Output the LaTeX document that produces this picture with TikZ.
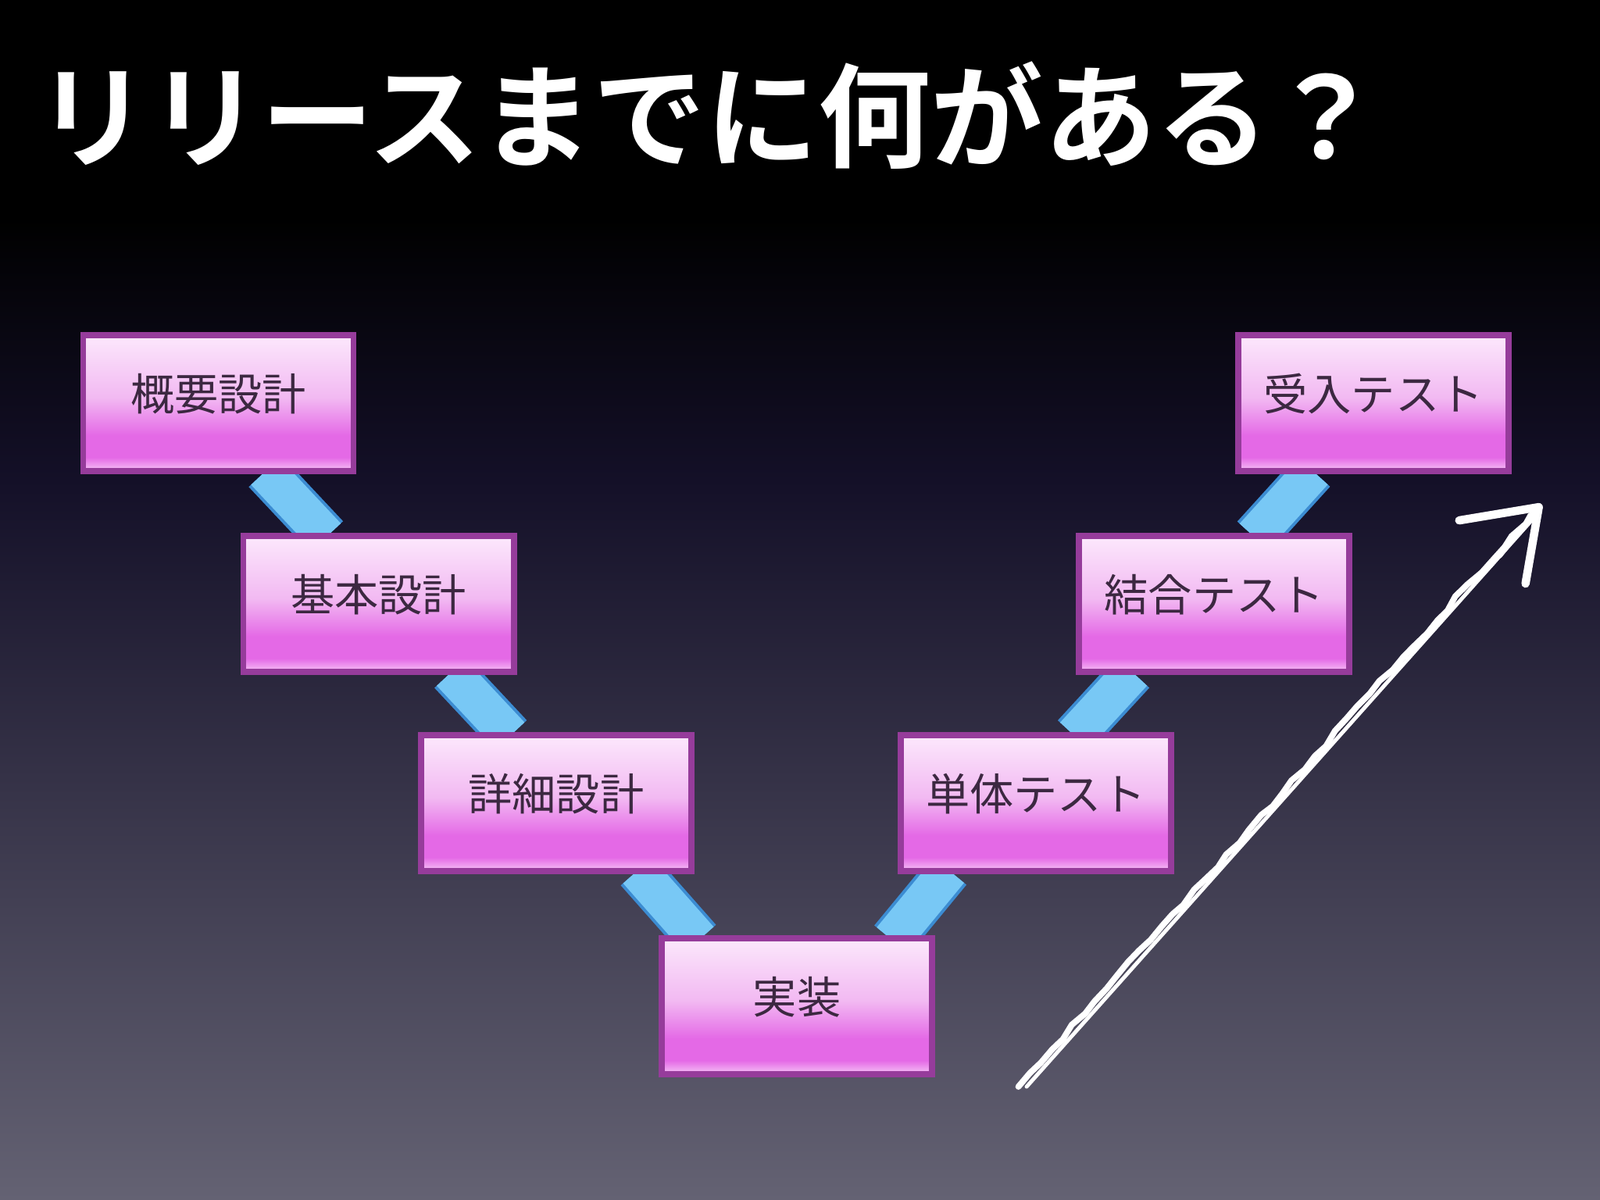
\documentclass[tikz,border=0pt]{standalone}
\usepackage{fontspec}
\newfontfamily\jpb{Noto Sans CJK JP Bold}
\newfontfamily\jp{Noto Sans CJK JP}
\usetikzlibrary{decorations.pathmorphing}
\definecolor{bgbot}{RGB}{100,98,115}
\definecolor{bgmid}{RGB}{20,16,40}
\definecolor{bxtop}{RGB}{252,232,252}
\definecolor{bxmid}{RGB}{242,185,242}
\definecolor{bxmag}{RGB}{228,105,230}
\definecolor{bxbot}{RGB}{246,196,246}
\definecolor{bxedge}{RGB}{150,60,155}
\definecolor{bandc}{RGB}{120,200,245}
\definecolor{banddark}{RGB}{60,140,210}
\definecolor{txt}{RGB}{60,40,65}
\pgfdeclareverticalshading{boxsh}{100bp}{color(0bp)=(bxbot); color(25bp)=(bxbot); color(30bp)=(bxmag); color(38bp)=(bxmag); color(52bp)=(bxmid); color(75bp)=(bxtop); color(100bp)=(bxtop)}
\pgfdeclareverticalshading{bgsh}{100bp}{color(0bp)=(bgbot); color(25bp)=(bgbot); color(55bp)=(bgmid); color(66bp)=(black); color(100bp)=(black)}
\tikzset{
  stepbox/.style={draw=bxedge, line width=2.2pt, shading=boxsh, minimum width=265*0.01306cm, minimum height=133*0.01306cm, inner sep=0pt, font=\jp\fontsize{16pt}{18pt}\selectfont, text=txt},
  lbl/.style={font=\jp\fontsize{16pt}{18pt}\selectfont, text=txt},
  band/.style={line width=0.58cm, draw=banddark},
  bandin/.style={line width=0.50cm, draw=bandc},
  hand/.style={draw=white, line width=2.2pt, line cap=round, line join=round}
}
\begin{document}
\begin{tikzpicture}[x=0.01306cm,y=-0.01306cm]
\shade[shading=bgsh] (0,0) rectangle (1568,1176);
\useasboundingbox (0,0) rectangle (1568,1176);
\node[anchor=west, text=white, font=\jpb\fontsize{41pt}{44pt}\selectfont] (title) at (26,113) {リリースまでに何がある？};
\coordinate (b1t) at (260,462); \coordinate (b1b) at (320,526);
\coordinate (b2t) at (442,659); \coordinate (b2b) at (500,721);
\coordinate (b3t) at (625,853); \coordinate (b3b) at (685,921);
\coordinate (b4t) at (930,853); \coordinate (b4b) at (874,921);
\coordinate (b5t) at (1110,659); \coordinate (b5b) at (1053,721);
\coordinate (b6t) at (1287,462); \coordinate (b6b) at (1229,526);
\foreach \s in {band,bandin}{
\foreach \i in {1,...,6}{
\draw[\s] (b\i t) -- (b\i b);
}}
\foreach \nm/\x/\y/\t in {n1/214/395/概要設計, n2/371/592/基本設計, n3/545/787/詳細設計, n4/781/986/実装, n5/1015/787/単体テスト, n6/1190/592/結合テスト, n7/1346/395/受入テスト}{
\node[stepbox] (\nm) at (\x,\y) {};
\node[lbl] (\nm t) at (\x,\y-9) {\t};
}
\coordinate (s0) at (998,1065);
\coordinate (s1) at (1500,505);
\coordinate (h1) at (1430,510);
\coordinate (h2) at (1508,497);
\coordinate (h3) at (1495,572);
\draw[hand, decorate, decoration={random steps, segment length=6pt, amplitude=0.8pt}] (s0) -- (s1);
\draw[hand, line width=1.4pt] ([xshift=3pt]s0) -- ([xshift=2pt]s1);
\draw[hand, line width=3pt] (h1) -- (h2) -- (h3);
\draw[hand, line width=1.5pt] (h2) -- (1470,545);
\end{tikzpicture}
\end{document}
